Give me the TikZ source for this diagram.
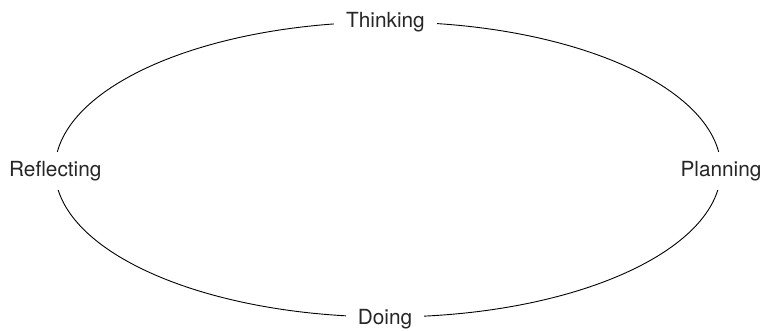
\documentclass[tikz,border=0pt]{standalone}
\usepackage{fontspec}
\setmainfont{TeX Gyre Heros}
\begin{document}
\begin{tikzpicture}[x=1pt,y=-1pt,
  lbl/.style={fill=white,inner xsep=12pt,inner ysep=0pt,minimum height=38pt,anchor=base,
    font=\fontsize{20.8}{25}\selectfont, text=black!85},
  ring/.style={line width=0.9pt,black}]
\useasboundingbox (0,0) rectangle (766,330);
\draw[ring] (388,169.5) ellipse [x radius=333pt, y radius=147.5pt];
\node[lbl] (thinking) at (385.5,27) {Thinking};
\node[lbl] (reflecting) at (55.3,176) {Reflecting};
\node[lbl] (planning) at (721,176) {Planning};
\node[lbl] (doing) at (385,324) {Doing};
\end{tikzpicture}
\end{document}
